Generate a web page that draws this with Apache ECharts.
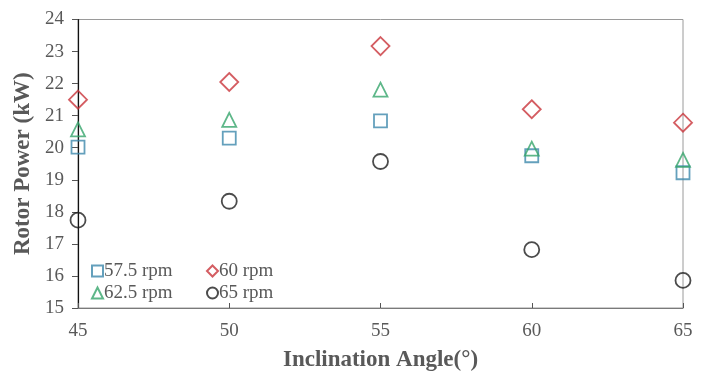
<!DOCTYPE html>
<html>
<head>
<meta charset="utf-8">
<script src="https://cdn.jsdelivr.net/npm/echarts@6/dist/echarts.min.js"></script>
<style>html,body{margin:0;padding:0;background:#fff;}#c{width:704px;height:373px;}</style>
</head>
<body>
<div id="c"></div>
<script>
const angles = [45, 50, 55, 60, 65];
const rpm575 = [20.02, 20.3, 20.84, 19.75, 19.22];
const rpm60 = [21.5, 22.05, 23.17, 21.2, 20.78];
const rpm625 = [20.57, 20.87, 21.81, 19.97, 19.62];
const rpm65 = [17.74, 18.33, 19.57, 16.82, 15.86];
const seriesNames = ['57.5 rpm', '60 rpm', '62.5 rpm', '65 rpm'];
const yTicks = [15, 16, 17, 18, 19, 20, 21, 22, 23, 24];

const font = '"Liberation Serif", "Times New Roman", serif';
const gray = '#595959';

function pts(vals) { return angles.map((a, i) => [a, vals[i]]); }
function mk(name, vals, symbol, size, color) {
  return {
    name, type: 'scatter', data: pts(vals), symbol, symbolSize: size,
    itemStyle: { color: 'rgba(0,0,0,0)', borderColor: color, borderWidth: 1.8 },
    emphasis: { disabled: true }
  };
}

const legendText = { fontFamily: font, fontSize: 19, color: gray, padding: [0, 0, 0, -4], lineHeight: 20 };

const chart = echarts.init(document.getElementById('c'));
chart.setOption({
  animation: false,
  backgroundColor: '#fff',
  grid: {
    left: 78, right: 21, top: 19.5, bottom: 65, show: true, borderColor: '#9a9a9a', borderWidth: 1,
    outerBoundsMode: 'none', containLabel: false
  },
  xAxis: {
    type: 'value', min: 45, max: 65, interval: 5,
    name: 'Inclination Angle(°)', nameLocation: 'middle', nameGap: 41,
    nameTextStyle: { fontFamily: font, fontWeight: 'bold', fontSize: 23, color: gray },
    axisLine: { show: true, lineStyle: { color: '#7a7a7a', width: 1 } },
    axisTick: { show: true, inside: true, length: 5, lineStyle: { color: '#555' } },
    axisLabel: { fontFamily: font, fontSize: 19, color: gray, margin: 14 },
    splitLine: { show: false }
  },
  yAxis: {
    type: 'value', min: yTicks[0], max: yTicks[yTicks.length - 1], interval: 1,
    name: 'Rotor Power (kW)', nameLocation: 'middle', nameGap: 39,
    nameTextStyle: { fontFamily: font, fontWeight: 'bold', fontSize: 23, color: gray },
    axisLine: { show: true, lineStyle: { color: '#111', width: 1.2 } },
    axisTick: { show: true, inside: false, length: 6, lineStyle: { color: '#555' } },
    axisLabel: { fontFamily: font, fontSize: 19, color: gray, margin: 14 },
    splitLine: { show: false }
  },
  legend: [
    {
      orient: 'vertical', left: 86, top: 256, itemWidth: 11, itemHeight: 11, itemGap: 2,
      data: [seriesNames[0], seriesNames[2]], textStyle: legendText
    },
    {
      orient: 'vertical', left: 201, top: 256, itemWidth: 11, itemHeight: 11, itemGap: 2,
      data: [seriesNames[1], seriesNames[3]], textStyle: legendText
    }
  ],
  series: [
    mk(seriesNames[0], rpm575, 'rect', 13, '#3d88ab'),
    mk(seriesNames[1], rpm60, 'diamond', 18, '#c9343b'),
    mk(seriesNames[2], rpm625, 'triangle', 14, '#36a56c'),
    mk(seriesNames[3], rpm65, 'circle', 15, '#1e1e1e')
  ]
});
</script>
</body>
</html>
